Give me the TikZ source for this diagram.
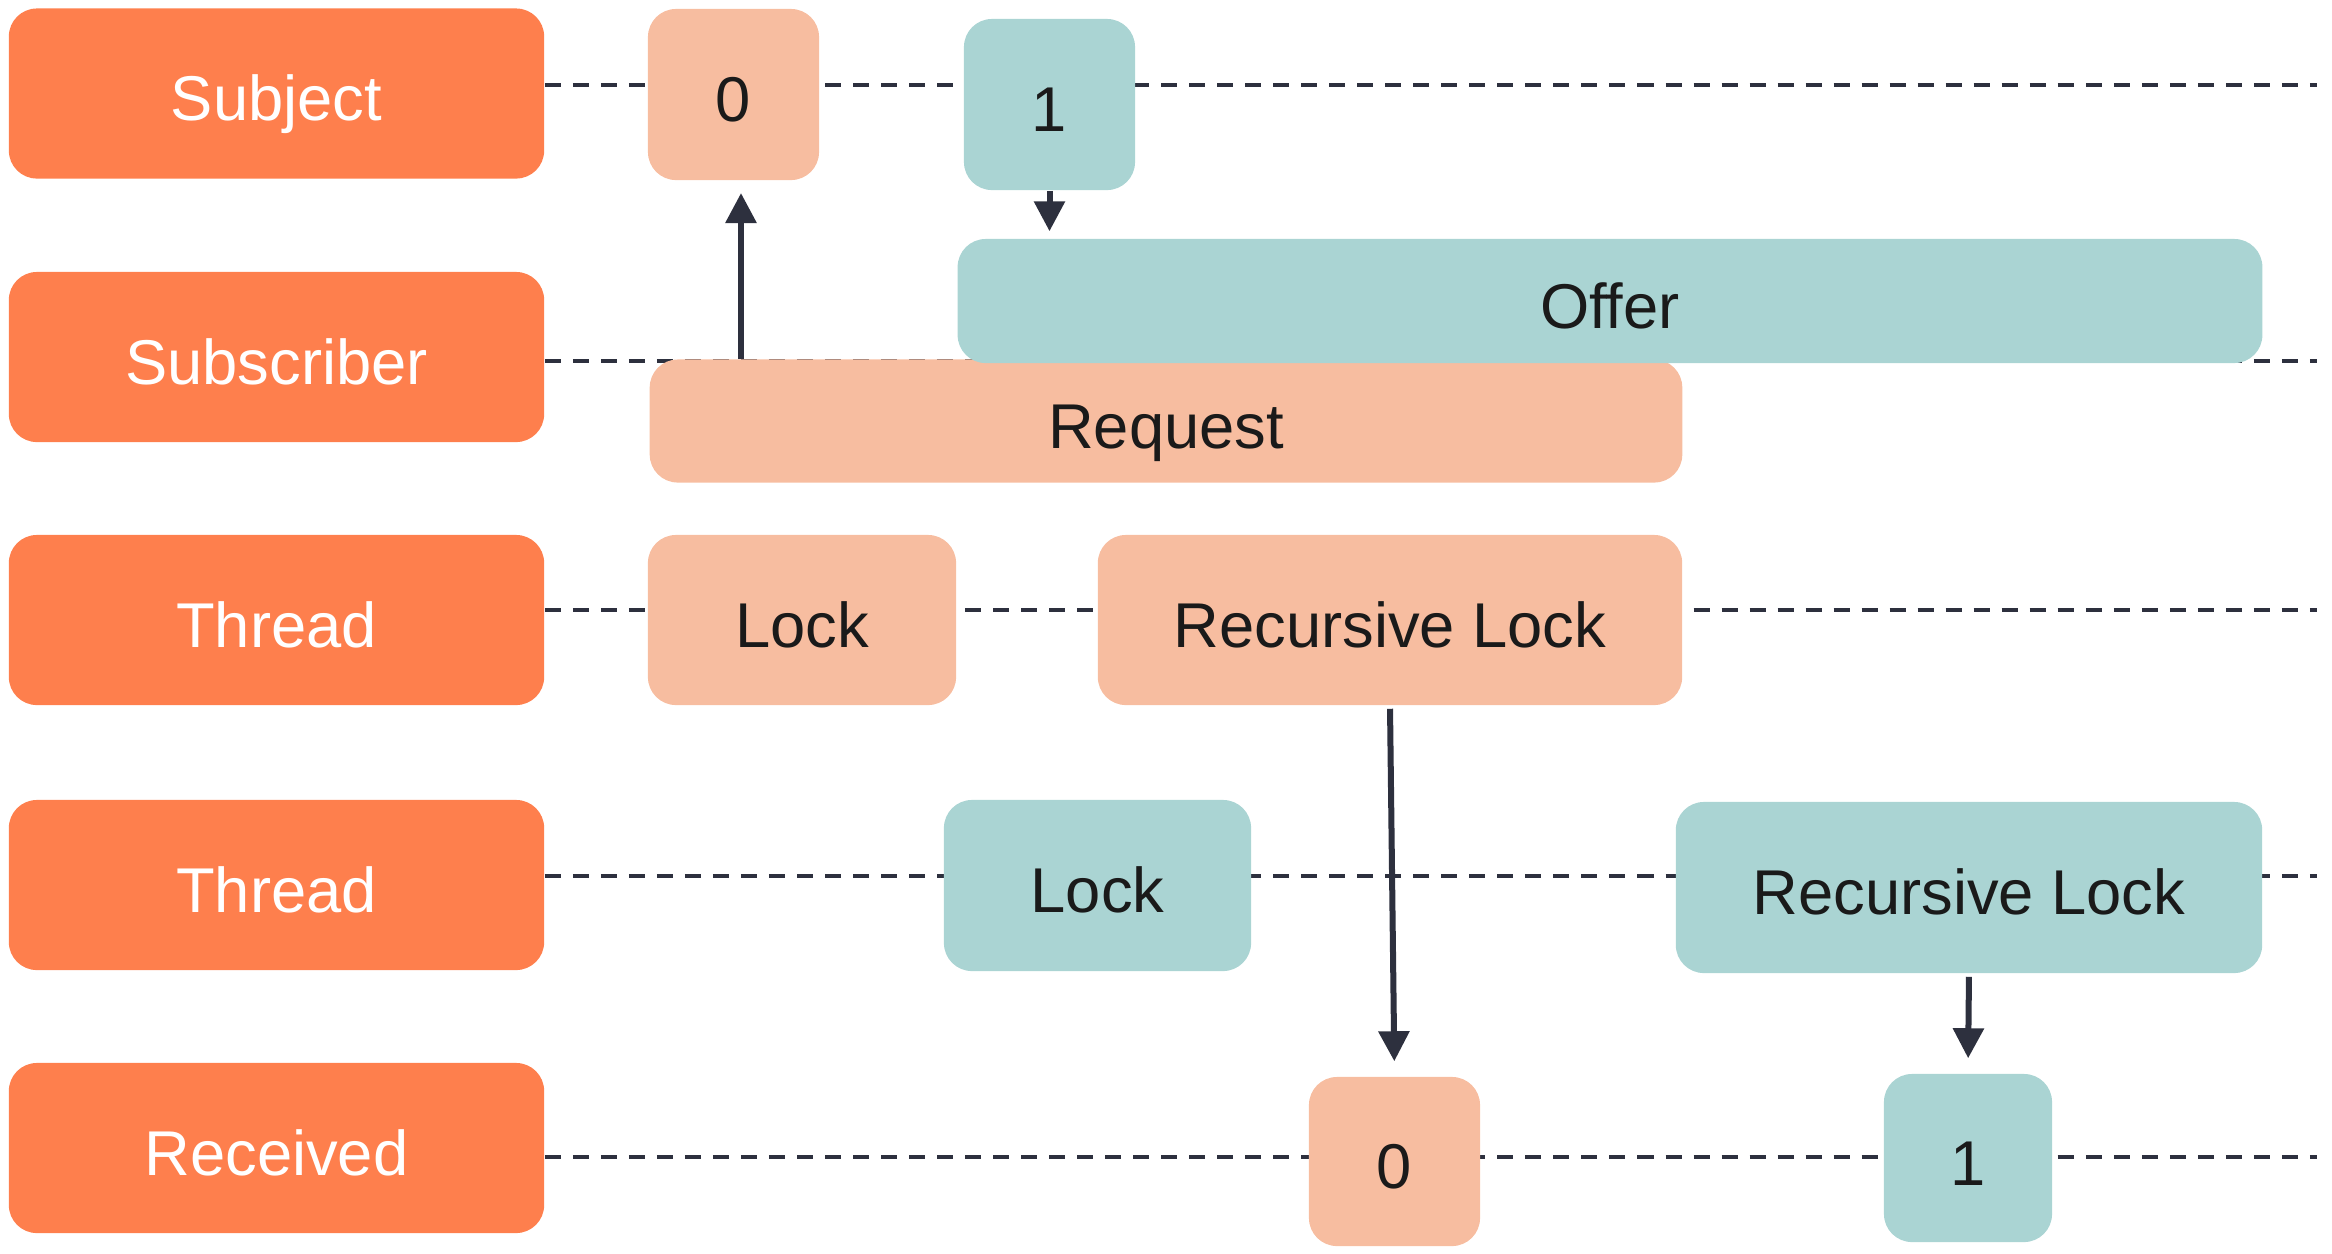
\documentclass[tikz,border=0pt]{standalone}
\usepackage{fontspec}
\setmainfont{Liberation Sans}
\usetikzlibrary{arrows.meta}
\definecolor{rowcol}{HTML}{FE7F4D}
\definecolor{peachcol}{HTML}{F7BDA0}
\definecolor{tealcol}{HTML}{AAD4D3}
\definecolor{inkcol}{HTML}{1A1A1A}
\definecolor{linecol}{HTML}{2D303E}
\begin{document}
\begin{tikzpicture}[x=0.01cm, y=-0.01cm,
        box/.style={rounded corners=0.28cm, inner sep=0pt, text=inkcol,
            font=\fontsize{18}{22}\selectfont, text height=15.5pt, text depth=0pt},
        rowbox/.style={box, fill=rowcol, text=white, minimum width=5.35cm, minimum height=1.7cm},
        pbox/.style={box, fill=peachcol},
        tbox/.style={box, fill=tealcol},
        timeline/.style={draw=linecol, line width=0.04cm, dash pattern=on 0.16cm off 0.12cm},
        msg/.style={draw=linecol, line width=0.06cm, -{Triangle[length=0.3cm,width=0.3cm]}}]
    \useasboundingbox (0,0) rectangle (2332,1253);

    \node[rowbox] (Subj) at (276.5,93.5) {Subject};
    \node[rowbox] (Subs) at (276.5,357) {Subscriber};
    \node[rowbox] (ThrA) at (276.5,620) {Thread};
    \node[rowbox] (ThrB) at (276.5,885) {Thread};
    \node[rowbox] (Recv) at (276.5,1148) {Received};

    \coordinate (SubjEnd) at (2317,85);
    \coordinate (SubsEnd) at (2317,361);
    \coordinate (ThrAEnd) at (2317,610);
    \coordinate (ThrBEnd) at (2317,876);
    \coordinate (RecvEnd) at (2317,1157);

    \draw[timeline] (Subj.east |- SubjEnd) -- (SubjEnd);
    \draw[timeline] (Subs.east |- SubsEnd) -- (SubsEnd);
    \draw[timeline] (ThrA.east |- ThrAEnd) -- (ThrAEnd);
    \draw[timeline] (ThrB.east |- ThrBEnd) -- (ThrBEnd);
    \draw[timeline] (Recv.east |- RecvEnd) -- (RecvEnd);

    \node[pbox, minimum width=1.71cm, minimum height=1.71cm] (Subj0) at (733.5,94.5) {0};
    \node[tbox, minimum width=1.71cm, minimum height=1.71cm] (Subj1) at (1049.5,104.5) {1};
    \node[pbox, minimum width=10.32cm, minimum height=1.23cm] (Req) at (1166,421) {Request};
    \node[tbox, minimum width=13.04cm, minimum height=1.24cm] (Offer) at (1610,301) {Offer};
    \node[pbox, minimum width=3.08cm, minimum height=1.7cm] (LockA) at (802,620) {Lock};
    \node[pbox, minimum width=5.84cm, minimum height=1.7cm] (RecLockA) at (1390,620) {Recursive Lock};
    \node[tbox, minimum width=3.07cm, minimum height=1.71cm] (LockB) at (1097.5,885.5) {Lock};
    \node[tbox, minimum width=5.86cm, minimum height=1.71cm] (RecLockB) at (1969,887.5) {Recursive Lock};
    \node[pbox, minimum width=1.71cm, minimum height=1.69cm] (Recv0) at (1394.5,1161.5) {0};
    \node[tbox, minimum width=1.68cm, minimum height=1.68cm] (Recv1) at (1968,1158) {1};

    \coordinate (ReqUp) at (741,181);
    \draw[msg, shorten >=0.12cm] (Req.north -| ReqUp) -- (ReqUp);
    \draw[msg, shorten >=0.07cm] (Subj1.south) -- (Subj1.south |- Offer.north);
    \draw[msg, shorten <=0.03cm, shorten >=0.15cm] (RecLockA.south) -- (Recv0.north);
    \draw[msg, shorten <=0.03cm, shorten >=0.15cm] (RecLockB.south) -- (Recv1.north);
\end{tikzpicture}
\end{document}
